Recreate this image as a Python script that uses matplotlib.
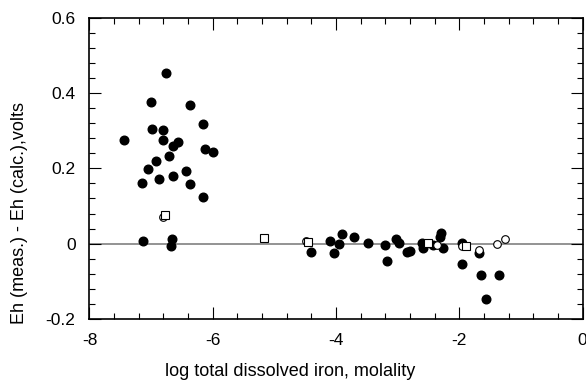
import numpy as np
from matplotlib import pyplot as plt
from matplotlib.ticker import MultipleLocator

plt.rcParams['font.family'] = ['Liberation Sans', 'DejaVu Sans']

# ---- data ----
# filled circles
filled_x = [-6.76, -7.01, -6.365, -6.16, -6.98, -6.80, -6.80, -7.435, -6.56, -6.645,
            -6.12, -6.00, -6.715, -6.92, -7.05, -6.435, -6.64, -6.88, -7.15, -6.37,
            -6.155, -7.13, -6.66, -6.68,
            -4.40, -4.10, -3.95, -3.91, -4.03, -3.71, -3.49, -3.21, -3.18, -3.02,
            -2.975, -2.855, -2.80, -2.61, -2.585, -2.42, -2.30, -2.315, -2.27,
            -1.96, -1.96, -1.68, -1.655, -1.57, -1.35]
filled_y = [0.452, 0.376, 0.369, 0.318, 0.304, 0.301, 0.276, 0.275, 0.269, 0.258,
            0.252, 0.244, 0.233, 0.220, 0.198, 0.192, 0.181, 0.171, 0.160, 0.158,
            0.124, 0.006, 0.013, -0.005,
            -0.023, 0.006, 0.0, 0.026, -0.025, 0.018, 0.002, -0.004, -0.045, 0.013,
            0.003, -0.022, -0.019, 0.003, -0.011, -0.003, 0.028, 0.018, -0.011,
            0.003, -0.054, -0.025, -0.082, -0.147, -0.082]

# open circles
open_circ_x = [-6.81, -4.49, -2.36, -1.96, -1.68, -1.385, -1.26]
open_circ_y = [0.070, 0.006, -0.003, -0.007, -0.016, -0.001, 0.013]

# open squares
square_x = [-6.775, -5.17, -4.45, -2.515, -1.89]
square_y = [0.077, 0.015, 0.004, 0.002, -0.005]

xticks = [-8, -6, -4, -2, 0]
xtick_labels = ['-8', '-6', '-4', '-2', '0']
yticks = [-0.2, 0, 0.2, 0.4, 0.6]
ytick_labels = ['-0.2', '0', '0.2', '0.4', '0.6']

fig = plt.figure(figsize=(5.86, 3.81), dpi=100)
ax = fig.add_axes([0.1527, 0.1627, 0.8416, 0.7909])

ax.axhline(0, color='#808080', lw=1.2, zorder=1)

ax.plot(filled_x, filled_y, 'o', color='black', markersize=6.2, zorder=2)
ax.plot(open_circ_x, open_circ_y, 'o', mfc='white', mec='black', mew=0.8,
        markersize=5.5, zorder=3)
ax.plot(square_x, square_y, 's', mfc='white', mec='black', mew=0.8,
        markersize=5.3, zorder=4)

ax.set_xlim(-8, 0)
ax.set_ylim(-0.2, 0.6)
ax.set_xticks(xticks)
ax.set_xticklabels(xtick_labels)
ax.set_yticks(yticks)
ax.set_yticklabels(ytick_labels)
ax.xaxis.set_minor_locator(MultipleLocator(0.4))
ax.yaxis.set_minor_locator(MultipleLocator(0.04))

ax.tick_params(which='both', direction='in', top=True, right=True,
               width=0.8, labelsize=12.5, pad=10)
ax.tick_params(which='major', length=8.5)
ax.tick_params(which='minor', length=4.5)
for sp in ax.spines.values():
    sp.set_linewidth(1.2)

ax.set_xlabel('log total dissolved iron, molality', fontsize=13)
ax.xaxis.set_label_coords(0.407, -0.145)
ax.set_ylabel('Eh (meas.) - Eh (calc.),volts', fontsize=13)
ax.yaxis.set_label_coords(-0.125, 0.352)

fig.savefig('out.png', dpi=100)
